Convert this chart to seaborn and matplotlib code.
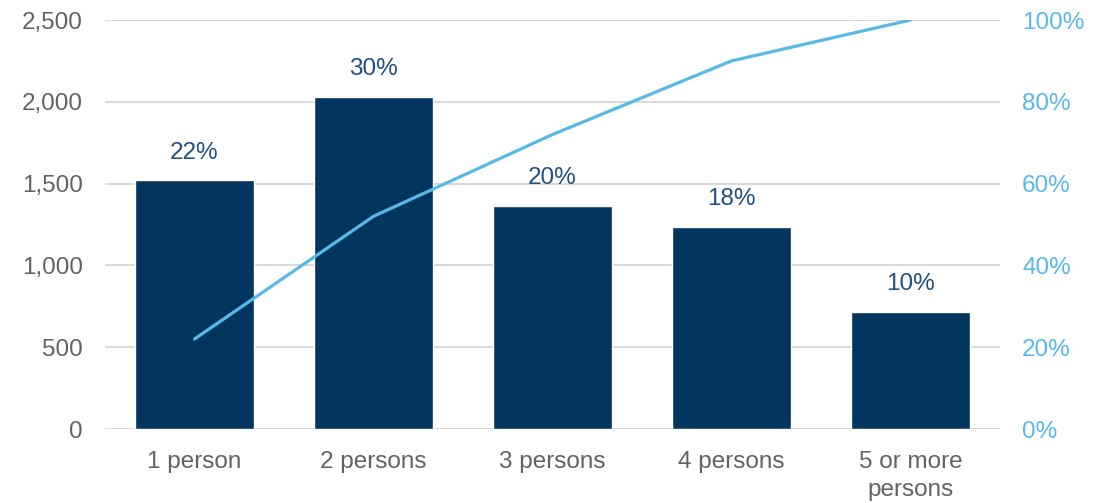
import matplotlib
matplotlib.use("Agg")
import matplotlib.pyplot as plt
import seaborn as sns
import pandas as pd
import numpy as np
from matplotlib.ticker import FuncFormatter

categories = ["1 person", "2 persons", "3 persons", "4 persons", "5 or more\npersons"]
households = [1520, 2030, 1365, 1237, 716]
share_labels = ["22%", "30%", "20%", "18%", "10%"]
cumulative_pct = [22, 52, 72, 90, 100]

BAR_COLOR = "#02365f"
LINE_COLOR = "#58b9e9"
TEXT_COLOR = "#626262"
LABEL_COLOR = "#22507d"
GRID_COLOR = "#d9d9d9"
FS = 17.5

sns.set_theme(style="white")
plt.rcParams["font.family"] = ["Liberation Sans", "DejaVu Sans"]

df = pd.DataFrame({"category": categories, "households": households,
                   "cumulative": cumulative_pct})

fig = plt.figure(figsize=(11.09, 5.03), dpi=100)
ax = fig.add_axes([105 / 1109, 74 / 503, 895 / 1109, 409 / 503])

sns.barplot(data=df, x="category", y="households", color=BAR_COLOR,
            width=0.665, saturation=1, ax=ax, zorder=2)
ax.set_xlim(-0.5, 4.5)
ax.set_ylim(0, 2500)
ax.set_yticks(np.arange(0, 2501, 500))
ax.yaxis.set_major_formatter(FuncFormatter(lambda v, p: f"{int(v):,}"))
ax.grid(axis="y", color=GRID_COLOR, linewidth=1.5, zorder=0)
ax.set_axisbelow(True)
for s in ax.spines.values():
    s.set_visible(False)
ax.set_xlabel("")
ax.set_ylabel("")
ax.tick_params(axis="both", length=0, labelsize=FS, colors=TEXT_COLOR)
ax.tick_params(axis="y", pad=16)
ax.tick_params(axis="x", pad=16)
for t in ax.get_xticklabels():
    t.set_linespacing(1.35)

for i, (v, lab) in enumerate(zip(households, share_labels)):
    ax.annotate(lab, (i, v), xytext=(0, 12), textcoords="offset points",
                ha="center", va="bottom", fontsize=FS, color=LABEL_COLOR)

ax2 = ax.twinx()
sns.lineplot(data=df, x="category", y="cumulative", color=LINE_COLOR,
             linewidth=2.3, ax=ax2, sort=False)
ax2.set_ylim(0, 100)
ax2.set_yticks(np.arange(0, 101, 20))
ax2.yaxis.set_major_formatter(FuncFormatter(lambda v, p: f"{int(v)}%"))
for s in ax2.spines.values():
    s.set_visible(False)
ax2.set_xlabel("")
ax2.set_ylabel("")
ax2.tick_params(axis="y", length=0, labelsize=FS, colors=LINE_COLOR, pad=16)
ax2.set_xlim(-0.5, 4.5)

fig.savefig("out.png", dpi=100)
